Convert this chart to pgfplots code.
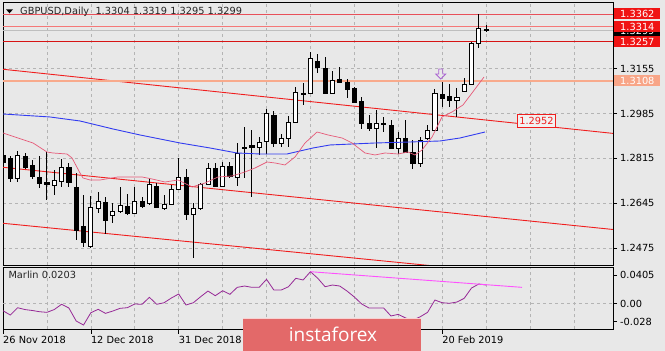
\documentclass[border=0pt]{standalone}
\usepackage{fontspec}
\setmainfont{DejaVu Sans}
\newfontfamily\logofont{Open Sans}
\usepackage{pgfplots}
\pgfplotsset{compat=1.18}
\usepackage{pgfplotstable}

\definecolor{bg}{RGB}{232,232,232}
\definecolor{gridc}{RGB}{180,180,180}
\definecolor{chan}{RGB}{240,30,30}
\definecolor{lineA}{RGB}{232,80,90}
\definecolor{lineB}{RGB}{245,120,120}
\definecolor{lineC}{RGB}{215,20,20}
\definecolor{lineD}{RGB}{248,170,140}
\definecolor{boxred}{RGB}{240,20,20}
\definecolor{boxsal}{RGB}{248,165,135}
\definecolor{maBlue}{RGB}{50,60,240}
\definecolor{maPink}{RGB}{230,90,120}
\definecolor{marlin}{RGB}{150,40,150}
\definecolor{magline}{RGB}{255,80,255}
\definecolor{logo}{RGB}{227,105,105}
\definecolor{arrowc}{RGB}{170,100,210}
\definecolor{bidc}{RGB}{190,190,190}

\newcommand\lbl{\fontsize{9.8}{11}\selectfont}

\pgfdeclareplotmark{hollowdown}{%
 \pgfpathmoveto{\pgfqpoint{-2pt}{5pt}}%
 \pgfpathlineto{\pgfqpoint{2pt}{5pt}}%
 \pgfpathlineto{\pgfqpoint{2pt}{0pt}}%
 \pgfpathlineto{\pgfqpoint{5pt}{0pt}}%
 \pgfpathlineto{\pgfqpoint{0pt}{-5pt}}%
 \pgfpathlineto{\pgfqpoint{-5pt}{0pt}}%
 \pgfpathlineto{\pgfqpoint{-2pt}{0pt}}%
 \pgfpathclose
 \pgfusepathqstroke
}

\pgfplotstableread{
i o h l c
0 1.28276 1.28465 1.27859 1.28010
1 1.28162 1.28238 1.27252 1.27404
2 1.27404 1.28427 1.27252 1.28276
3 1.28238 1.28351 1.27745 1.27821
4 1.27897 1.28086 1.27366 1.27480
5 1.27442 1.28238 1.27025 1.27214
6 1.27252 1.28389 1.26570 1.27176
7 1.27139 1.27707 1.26760 1.27328
8 1.27290 1.28124 1.27063 1.27821
9 1.27821 1.27972 1.27063 1.27252
10 1.27063 1.27593 1.25054 1.25433
11 1.25585 1.26760 1.24789 1.24978
12 1.24826 1.26722 1.24751 1.26305
13 1.26267 1.26873 1.26077 1.26532
14 1.26494 1.26684 1.25281 1.25812
15 1.26002 1.26456 1.25698 1.26153
16 1.26153 1.27063 1.26077 1.26381
17 1.26343 1.26797 1.26002 1.26077
18 1.26077 1.27063 1.26039 1.26532
19 1.26532 1.26684 1.26267 1.26343
20 1.26456 1.27404 1.26381 1.27176
21 1.27101 1.27214 1.26267 1.26305
22 1.26267 1.26760 1.26191 1.26418
23 1.26418 1.27139 1.26381 1.26987
24 1.26987 1.28162 1.26949 1.27442
25 1.27442 1.27745 1.25812 1.26039
26 1.26039 1.26456 1.24372 1.26267
27 1.26267 1.27214 1.26191 1.27176
28 1.27176 1.27972 1.27139 1.27783
29 1.27783 1.27972 1.27063 1.27101
30 1.27101 1.28010 1.27063 1.27859
31 1.27859 1.28010 1.27404 1.27480
32 1.27442 1.28730 1.27101 1.28351
33 1.28541 1.29337 1.27404 1.28579
34 1.28655 1.29223 1.26684 1.28579
35 1.28579 1.28958 1.28276 1.28768
36 1.28806 1.30019 1.28313 1.29867
37 1.29792 1.29943 1.28579 1.28730
38 1.28730 1.29071 1.28579 1.28920
39 1.28920 1.29754 1.28579 1.29526
40 1.29526 1.30853 1.29488 1.30663
41 1.30587 1.31004 1.30171 1.30625
42 1.30625 1.32179 1.30587 1.31952
43 1.31838 1.32103 1.31383 1.31611
44 1.31573 1.31990 1.30587 1.30625
45 1.30625 1.31459 1.30587 1.31118
46 1.31156 1.31611 1.31004 1.31042
47 1.31042 1.31156 1.30436 1.30777
48 1.30815 1.30853 1.30246 1.30284
49 1.30322 1.30474 1.29261 1.29488
50 1.29488 1.29792 1.29185 1.29299
51 1.29299 1.29981 1.28541 1.29488
52 1.29488 1.29716 1.29147 1.29450
53 1.29413 1.29602 1.28541 1.28541
54 1.28541 1.29147 1.28313 1.28920
55 1.28920 1.29602 1.28351 1.28389
56 1.28389 1.28844 1.27745 1.27972
57 1.27972 1.28958 1.27821 1.28844
58 1.28920 1.29413 1.28844 1.29223
59 1.29223 1.30777 1.29185 1.30625
60 1.30587 1.31042 1.30095 1.30436
61 1.30512 1.30966 1.30095 1.30360
62 1.30360 1.30815 1.29716 1.30474
63 1.30701 1.31194 1.30663 1.30966
64 1.30966 1.32558 1.30929 1.32520
65 1.32520 1.33619 1.32331 1.33089
66 1.33040 1.33190 1.32950 1.32990
}\ohlc

\pgfplotstableread{
i v
0 -0.0093
1 -0.0149
2 -0.0054
3 -0.0078
4 -0.0090
5 -0.0106
6 -0.0114
7 -0.0078
8 -0.0010
9 -0.0058
10 -0.0226
11 -0.0278
12 -0.0119
13 -0.0075
14 -0.0127
15 -0.0097
16 -0.0062
17 -0.0054
18 -0.0006
19 -0.0010
20 0.0080
21 -0.0010
22 0.0010
23 0.0071
24 0.0123
25 -0.0019
26 0.0010
27 0.0088
28 0.0161
29 0.0101
30 0.0165
31 0.0119
32 0.0209
33 0.0226
34 0.0209
35 0.0209
36 0.0313
37 0.0174
38 0.0174
39 0.0217
40 0.0326
41 0.0304
42 0.0411
43 0.0326
44 0.0217
45 0.0239
46 0.0226
47 0.0161
48 0.0084
49 -0.0006
50 -0.0058
51 -0.0058
52 -0.0058
53 -0.0161
54 -0.0140
55 -0.0187
56 -0.0213
57 -0.0171
58 -0.0114
59 0.0045
60 0.0010
61 0.0003
62 0.0019
63 0.0067
64 0.0200
65 0.0252
66 0.0239
}\marlintab

\begin{document}
\begin{tikzpicture}
\fill[bg] (0,0) rectangle (665pt,351pt);

% ---------------- main price panel
\begin{axis}[
  at={(3pt,86pt)}, anchor=south west, scale only axis,
  width=610pt, height=262.3pt,
  xmin=0, xmax=83.33, ymin=1.24106, ymax=1.34047,
  axis line style={black, line width=0.8pt},
  xtick={0,6,...,84}, xticklabels={}, xtick style={draw=none},
  ytick={1.2475,1.2645,1.2815,1.2985,1.3155},
  yticklabels={1.2475,1.2645,1.2815,1.2985,1.3155},
  scaled y ticks=false,
  ytick pos=right, tick align=outside, major tick length=4pt,
  ytick style={black, line width=0.6pt},
  yticklabel style={anchor=west, font=\lbl, inner sep=0pt, xshift=3pt, text=black},
  grid=major, major grid style={gridc, dash pattern=on 3pt off 3pt, line width=0.6pt},
  clip mode=individual,
]
% channel lines
\addplot[chan, line width=0.9pt] coordinates {(0,1.31524) (83.33,1.29094)};
\addplot[chan, line width=0.9pt] coordinates {(0,1.27809) (83.33,1.25452)};
\addplot[chan, line width=0.9pt] coordinates {(0,1.25687) (83.33,1.23398)};
% horizontal levels
\addplot[bidc, line width=0.7pt] coordinates {(0,1.3299) (83.33,1.3299)};
\addplot[lineA, line width=0.9pt] coordinates {(0,1.3362) (83.33,1.3362)};
\addplot[lineB, line width=1.5pt] coordinates {(0,1.3314) (83.33,1.3314)};
\addplot[lineC, line width=0.9pt] coordinates {(0,1.3257) (83.33,1.3257)};
\addplot[lineD, line width=1.5pt] coordinates {(0,1.3108) (83.33,1.3108)};

% candles
\pgfplotstablegetrowsof{\ohlc}
\pgfmathtruncatemacro{\lastrow}{\pgfplotsretval-1}
\pgfplotsforeachungrouped \k in {0,...,\lastrow}{%
  \pgfplotstablegetelem{\k}{i}\of\ohlc\let\ci\pgfplotsretval
  \pgfplotstablegetelem{\k}{o}\of\ohlc\let\co\pgfplotsretval
  \pgfplotstablegetelem{\k}{h}\of\ohlc\let\chh\pgfplotsretval
  \pgfplotstablegetelem{\k}{l}\of\ohlc\let\cl\pgfplotsretval
  \pgfplotstablegetelem{\k}{c}\of\ohlc\let\cc\pgfplotsretval
  \pgfmathsetmacro{\xa}{\ci-0.28}%
  \pgfmathsetmacro{\xb}{\ci+0.28}%
  \pgfmathtruncatemacro{\up}{\cc>\co}%
  \ifnum\up=1 \def\bodyfill{white}\else\def\bodyfill{black}\fi
  \edef\temp{%
    \noexpand\addplot[black, line width=0.9pt, forget plot] coordinates {(\ci,\cl) (\ci,\chh)};
    \noexpand\addplot[draw=black, line width=0.8pt, fill=\bodyfill, forget plot] coordinates {(\xa,\co) (\xb,\co) (\xb,\cc) (\xa,\cc)} -- cycle;
  }%
  \temp
}

% moving averages
\addplot[maBlue, line width=0.9pt] coordinates {
(0,1.29829) (6.42,1.29716) (10.52,1.29564) (15.03,1.29261) (18.72,1.29034)
(24.18,1.28730) (28.28,1.28541) (31.97,1.28351) (35.11,1.28313) (38.80,1.28313)
(40.57,1.28427) (42.35,1.28541) (44.67,1.28655) (50.82,1.28730) (55.60,1.28768)
(59.70,1.28806) (62.43,1.28920) (65.85,1.29147)};
\addplot[maPink, line width=0.7pt] coordinates {
(0,1.29109) (4.10,1.28730) (6.01,1.28389) (6.83,1.28351) (8.74,1.28313)
(9.43,1.28162) (10.52,1.27593) (10.93,1.27404) (11.89,1.27328) (13.25,1.27328)
(15.71,1.27442) (17.35,1.27442) (18.99,1.27442) (20.36,1.27366) (22.13,1.27252)
(23.91,1.27328) (25.82,1.27063) (27.60,1.27214) (29.37,1.27442) (31.28,1.27480)
(33.06,1.27632) (34.43,1.27783) (36.07,1.28010) (37.16,1.27972) (38.52,1.27897)
(39.89,1.28200) (41.26,1.28730) (42.90,1.29147) (44.40,1.29034) (46.31,1.28920)
(47.68,1.28730) (49.45,1.28351) (50.82,1.28276) (52.19,1.28351) (53.96,1.28313)
(55.33,1.28389) (56.28,1.28276) (57.24,1.28465) (58.61,1.28958) (59.97,1.29716)
(61.34,1.29905) (62.84,1.30171) (64.07,1.30625) (65.71,1.31232)};

% arrow signal
\addplot[arrowc, only marks, mark=hollowdown, mark options={line width=0.8pt}] coordinates {(59.8,1.31345)};

% labels on the right
\node[fill=black, text=white, anchor=west, inner xsep=6pt, inner ysep=0pt, minimum height=11pt, font=\lbl] at (axis cs:83.33,1.3299) [xshift=1pt] {1.3299};
\node[fill=boxred, text=white, anchor=west, inner xsep=6pt, inner ysep=0pt, minimum height=11pt, font=\lbl] at (axis cs:83.33,1.3362) [xshift=1pt] {1.3362};
\node[fill=boxred, text=white, anchor=west, inner xsep=6pt, inner ysep=0pt, minimum height=11pt, font=\lbl] at (axis cs:83.33,1.3314) [xshift=1pt] {1.3314};
\node[fill=boxred, text=white, anchor=west, inner xsep=6pt, inner ysep=0pt, minimum height=11pt, font=\lbl] at (axis cs:83.33,1.3257) [xshift=1pt] {1.3257};
\node[fill=boxsal, text=white, anchor=west, inner xsep=6pt, inner ysep=0pt, minimum height=11pt, font=\lbl] at (axis cs:83.33,1.3108) [xshift=1pt] {1.3108};
\node[fill=bg!60!white, draw=chan, line width=0.8pt, text=chan, anchor=west, inner xsep=2pt, inner ysep=0pt, minimum height=13pt, font=\lbl] at (axis cs:70.2,1.29583) {1.2952};
\end{axis}

% ---------------- Marlin panel
\begin{axis}[
  at={(3pt,21.7pt)}, anchor=south west, scale only axis,
  width=610pt, height=62pt,
  xmin=0, xmax=83.33, ymin=-0.0333, ymax=0.0468,
  axis line style={black, line width=0.8pt},
  xtick={0,6,...,84}, xticklabels={}, xtick style={draw=none},
  ytick={-0.0235,0,0.0368},
  yticklabels={-0.028,0.00,0.0405},
  scaled y ticks=false,
  ytick pos=right, tick align=outside, major tick length=4pt,
  ytick style={black, line width=0.6pt},
  yticklabel style={anchor=west, font=\lbl, inner sep=0pt, xshift=3pt, text=black},
  xmajorgrids=true, ymajorgrids=false,
  major grid style={gridc, dash pattern=on 3pt off 3pt, line width=0.6pt},
  clip mode=individual,
]
\addplot[gridc, dash pattern=on 3pt off 3pt, line width=0.6pt] coordinates {(0,0) (83.33,0)};
\addplot[marlin, line width=0.8pt] table[x=i, y=v] {\marlintab};
\addplot[magline, line width=0.9pt] coordinates {(42,0.0411) (70.9,0.0209)};
\node[anchor=west, font=\lbl, text=black!85] at (axis cs:0,0.0370) [xshift=2pt] {Marlin 0.0203};
\end{axis}

% date ticks and labels
\foreach \xx/\tt in {3/26 Nov 2018, 90.8/12 Dec 2018, 178.7/31 Dec 2018, 442.2/20 Feb 2019}{
  \draw[black, line width=0.6pt] (\xx pt,21.7pt) -- (\xx pt,17pt);
  \node[anchor=west, inner sep=0pt, font=\lbl, text=black] at (\xx pt, 11pt) {\tt};
}

% title
\fill[black] (6pt,341.7pt) -- (13pt,341.7pt) -- (9.5pt,337.7pt) -- cycle;
\node[anchor=west, inner sep=0pt, font=\lbl, text=black!85] at (20pt,339pt) {GBPUSD,Daily\ \ 1.3304 1.3319 1.3295 1.3299};

% logo
\fill[logo] (243pt,0pt) rectangle (421pt,33pt);
\draw[white!70!logo, line width=0.8pt] (243pt,33pt) -- (421pt,33pt);
\node[text=white, font=\logofont\fontsize{19}{20}\selectfont] at (333pt,17pt) {instaforex};

\pgfresetboundingbox
\path[use as bounding box] (0,0) rectangle (665pt,351pt);
\end{tikzpicture}
\end{document}
